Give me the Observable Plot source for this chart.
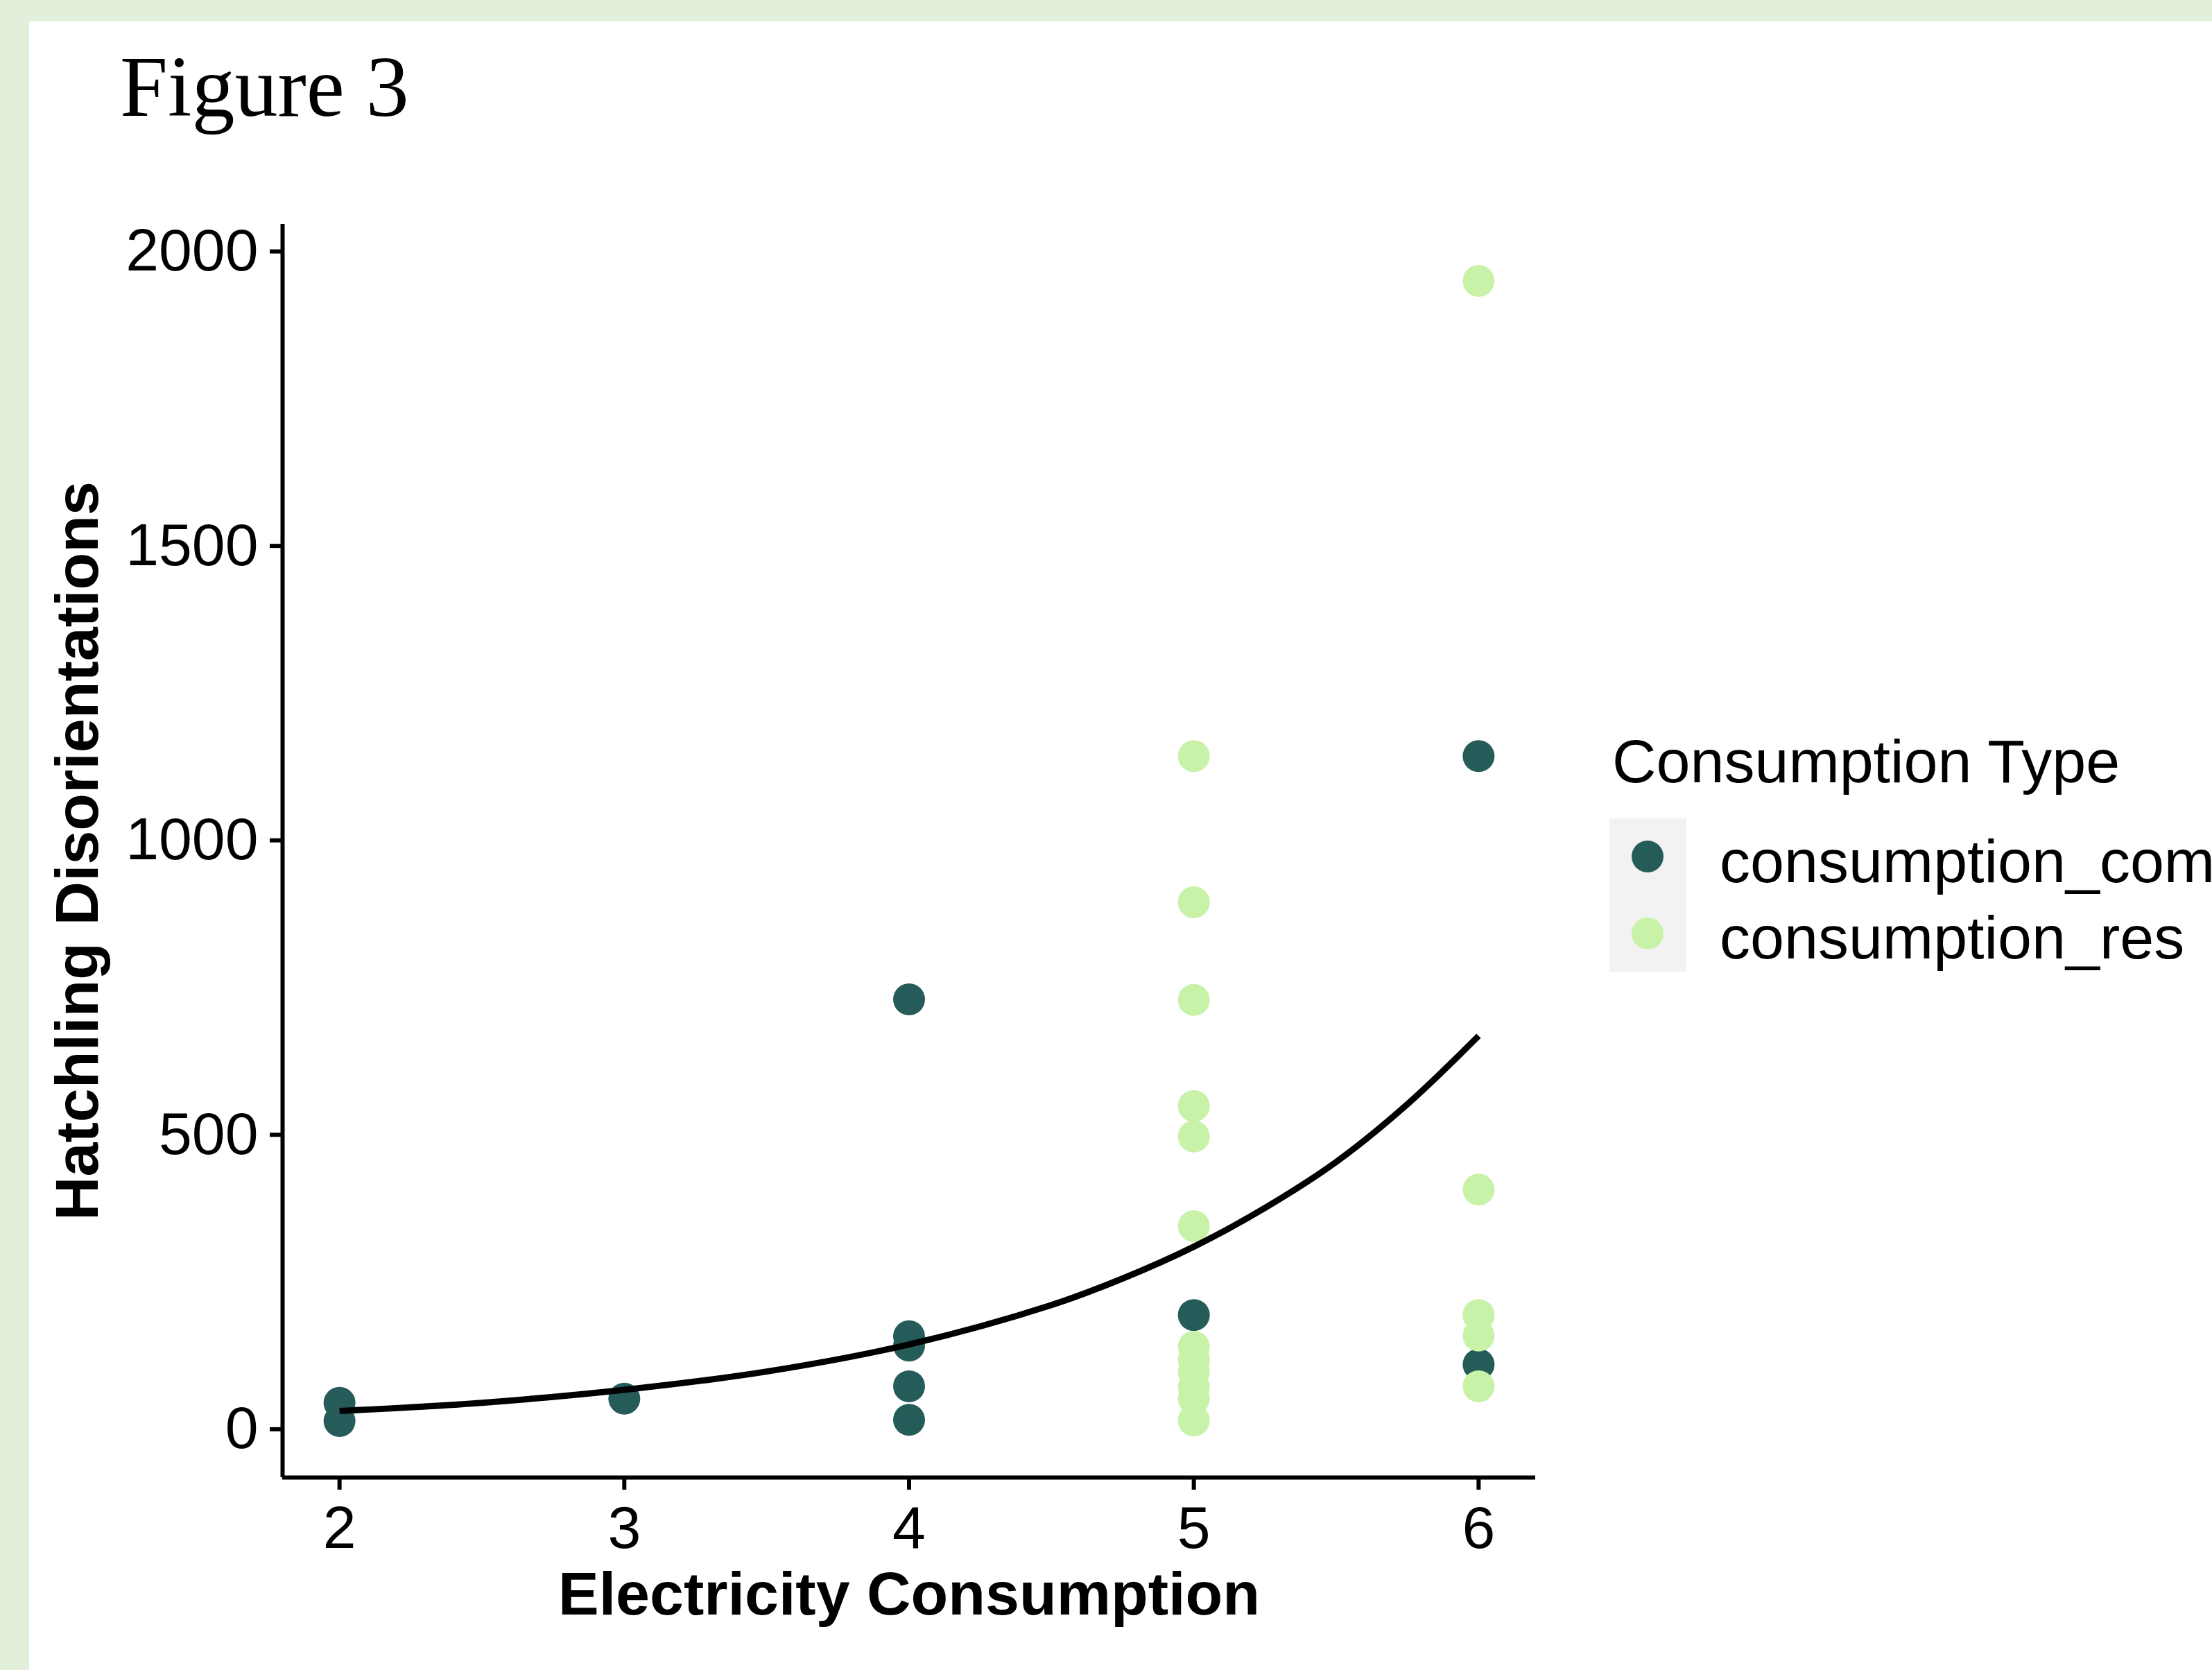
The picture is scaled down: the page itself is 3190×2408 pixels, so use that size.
<!DOCTYPE html>
<html>
<head>
<meta charset="utf-8">
<script src="https://cdn.jsdelivr.net/npm/d3@7"></script>
<script src="https://cdn.jsdelivr.net/npm/@observablehq/plot@0.6"></script>
<style>
html, body { margin: 0; padding: 0; overflow: hidden; }
body { width: 3190px; height: 2408px; background: #E2EFDA; position: relative; }
#panel { position: absolute; left: 42px; top: 31px; width: 3148px; height: 2377px; background: #ffffff; }
#chart, #overlay { position: absolute; left: 0; top: 0; }
</style>
</head>
<body>
<div id="panel"></div>
<div id="chart"></div>
<svg id="overlay" width="3190" height="2408"></svg>
<script>
// ---- data ----
const titleText = "Figure 3";
const xLabel = "Electricity Consumption";
const yLabel = "Hatchling Disorientations";
const legendTitle = "Consumption Type";
const seriesNames = ["consumption_com", "consumption_res"];
const seriesColors = ["#255B58", "#C8F2A8"];

const commX = [2, 2, 3, 4, 4, 4, 4, 4, 5, 6, 6];
const commY = [45, 14, 52, 730, 158, 142, 73, 16, 194, 1143, 110];

const resX = [5, 5, 5, 5, 5, 5, 5, 5, 5, 5, 5, 5, 6, 6, 6, 6, 6];
const resY = [1143, 895, 729, 549, 497, 345, 140, 118, 98, 72, 52, 15, 1950, 407, 194, 159, 73];

// fitted curve
const fitX = [2, 2.5, 3, 3.5, 4, 4.5, 4.75, 5, 5.25, 5.5, 5.75, 6];
const fitY = [31, 45, 67, 98, 144, 211, 256, 310, 376, 454, 552, 668];

const xTicks = [2, 3, 4, 5, 6];
const yTicks = [0, 500, 1000, 1500, 2000];
const xDomain = [1.8, 6.2];
const yDomain = [-82, 2046];

// ---- build tables ----
const points = [
  ...commX.map((x, i) => ({x, y: commY[i], type: seriesNames[0]})),
  ...resX.map((x, i) => ({x, y: resY[i], type: seriesNames[1]}))
];
const fit = fitX.map((x, i) => ({x, y: fitY[i]}));

const chart = Plot.plot({
  width: 3190,
  height: 2408,
  marginLeft: 407,
  marginRight: 976,
  marginTop: 323,
  marginBottom: 278,
  style: {fontFamily: "'Liberation Sans', Arial, sans-serif", fontSize: "86px", color: "#000", background: "transparent", overflow: "visible"},
  x: {domain: xDomain},
  y: {domain: yDomain},
  color: {domain: seriesNames, range: seriesColors},
  marks: [
    Plot.axisX({ticks: xTicks, tickSize: 18, tickPadding: 22, strokeWidth: 6, label: null, fontSize: 86, tickFormat: d => String(d), fill: "#000"}),
    Plot.axisY({ticks: yTicks, tickSize: 18, tickPadding: 17, strokeWidth: 6, label: null, fontSize: 86, tickFormat: d => String(d), fill: "#000"}),
    Plot.dot(points, {x: "x", y: "y", fill: "type", r: 23}),
    Plot.line(fit, {x: "x", y: "y", stroke: "#000", strokeWidth: 9, curve: "catmull-rom", strokeLinecap: "butt"}),
    Plot.ruleX([xDomain[0]], {stroke: "#000", strokeWidth: 6}),
    Plot.ruleY([yDomain[0]], {stroke: "#000", strokeWidth: 6}),
    Plot.text([yLabel], {text: d => d, frameAnchor: "left", dx: -295, rotate: -90, textAnchor: "middle", fontWeight: "bold", fontSize: 88, lineAnchor: "middle", fill: "#000"}),
    Plot.text([xLabel], {text: d => d, frameAnchor: "bottom", dy: 169, textAnchor: "middle", fontWeight: "bold", fontSize: 88, lineAnchor: "middle", fill: "#000"})
  ]
});
document.getElementById("chart").appendChild(chart);

// ---- title and legend ----
const ov = d3.select("#overlay");
ov.append("text")
  .attr("x", 173).attr("y", 167)
  .attr("font-family", "'Liberation Serif', 'DejaVu Serif', serif")
  .attr("font-size", 124)
  .attr("fill", "#000")
  .text(titleText);

const lg = ov.append("g").attr("font-family", "'Liberation Sans', Arial, sans-serif").attr("font-size", 88).attr("fill", "#000");
lg.append("text").attr("x", 2325).attr("y", 1128).text(legendTitle);
lg.append("rect").attr("x", 2321).attr("y", 1180).attr("width", 111).attr("height", 221).attr("fill", "#F2F2F2");
seriesNames.forEach((name, i) => {
  lg.append("circle").attr("cx", 2376).attr("cy", 1235 + i * 111).attr("r", 23).attr("fill", seriesColors[i]);
  lg.append("text").attr("x", 2480).attr("y", 1272 + i * 110).text(name);
});
</script>
</body>
</html>
